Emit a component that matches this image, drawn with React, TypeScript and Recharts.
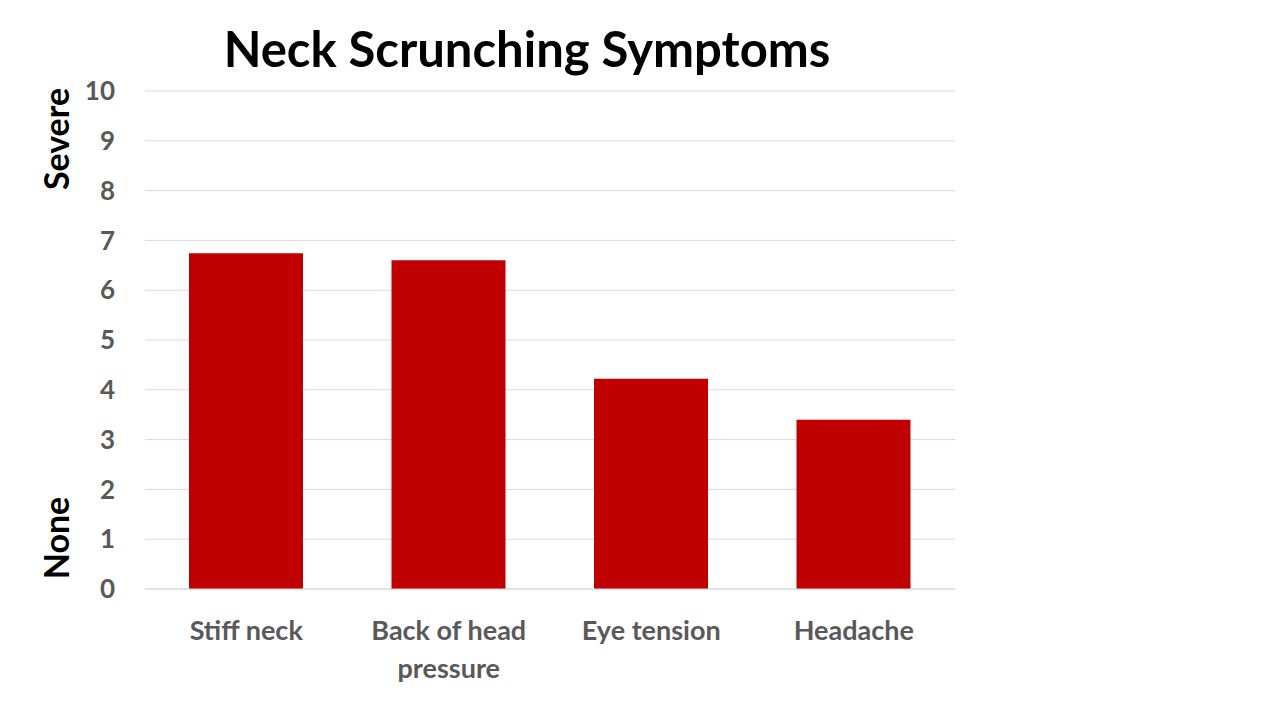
import React from 'react';
import { BarChart, Bar, XAxis, YAxis, CartesianGrid } from 'recharts';

const symptoms = ['Stiff neck', 'Back of head pressure', 'Eye tension', 'Headache'];
const severity = [6.74, 6.6, 4.22, 3.4];
const yTicks = [0, 1, 2, 3, 4, 5, 6, 7, 8, 9, 10];

const FONT = 'Lato, "Open Sans", sans-serif';
const TICK_GREY = '#595959';

const chartData = symptoms.map((name, i) => ({ name, value: severity[i] }));

// greedy wrap, roughly what fits under one bar
const wrap = (s: string, max = 12) => {
  const lines: string[] = [];
  let cur = '';
  s.split(' ').forEach(w => {
    const next = cur ? cur + ' ' + w : w;
    if (next.length > max && cur) {
      lines.push(cur);
      cur = w;
    } else cur = next;
  });
  if (cur) lines.push(cur);
  return lines;
};

const XTick = ({ x, y, payload }: any) => (
  <text
    x={x}
    y={y}
    textAnchor="middle"
    fill={TICK_GREY}
    style={{ fontFamily: FONT, fontSize: 27, fontWeight: 700 }}
  >
    {wrap(String(payload.value)).map((line, i) => (
      <tspan key={i} x={x} dy={i === 0 ? 43 : 38}>
        {line}
      </tspan>
    ))}
  </text>
);

const sideLabel: React.CSSProperties = {
  position: 'absolute',
  fontFamily: FONT,
  fontWeight: 700,
  fontSize: 34,
  color: '#000',
  transform: 'translate(-50%, -50%) rotate(-90deg)',
  whiteSpace: 'nowrap',
};

export default function App() {
  return (
    <div style={{ position: 'absolute', left: 0, top: 0, width: 1280, height: 720, background: '#fff', overflow: 'hidden' }}>
      <div
        style={{
          position: 'absolute',
          left: 527,
          top: 48,
          transform: 'translate(-50%, -50%)',
          fontFamily: FONT,
          fontWeight: 700,
          fontSize: 49,
          color: '#000',
          whiteSpace: 'nowrap',
        }}
      >
        Neck Scrunching Symptoms
      </div>
      <div style={{ ...sideLabel, left: 55, top: 139 }}>Severe</div>
      <div style={{ ...sideLabel, left: 55, top: 538 }}>None</div>
      <div style={{ position: 'absolute', left: 0, top: 0 }}>
        <BarChart
          width={1280}
          height={720}
          data={chartData}
          margin={{ top: 91, right: 325, bottom: 0, left: 0 }}
        >
          <CartesianGrid stroke="#d9d9d9" vertical={false} />
          <XAxis
            dataKey="name"
            axisLine={{ stroke: '#d9d9d9' }}
            tickLine={false}
            interval={0}
            tick={<XTick />}
            height={131}
          />
          <YAxis
            domain={[0, 10]}
            ticks={yTicks}
            width={145}
            axisLine={false}
            tickLine={false}
            tickSize={0}
            tickMargin={30}
            tick={{ fill: TICK_GREY, fontFamily: FONT, fontSize: 26, fontWeight: 700 }}
          />
          <Bar dataKey="value" fill="#c00000" barSize={114} isAnimationActive={false} />
        </BarChart>
      </div>
    </div>
  );
}
